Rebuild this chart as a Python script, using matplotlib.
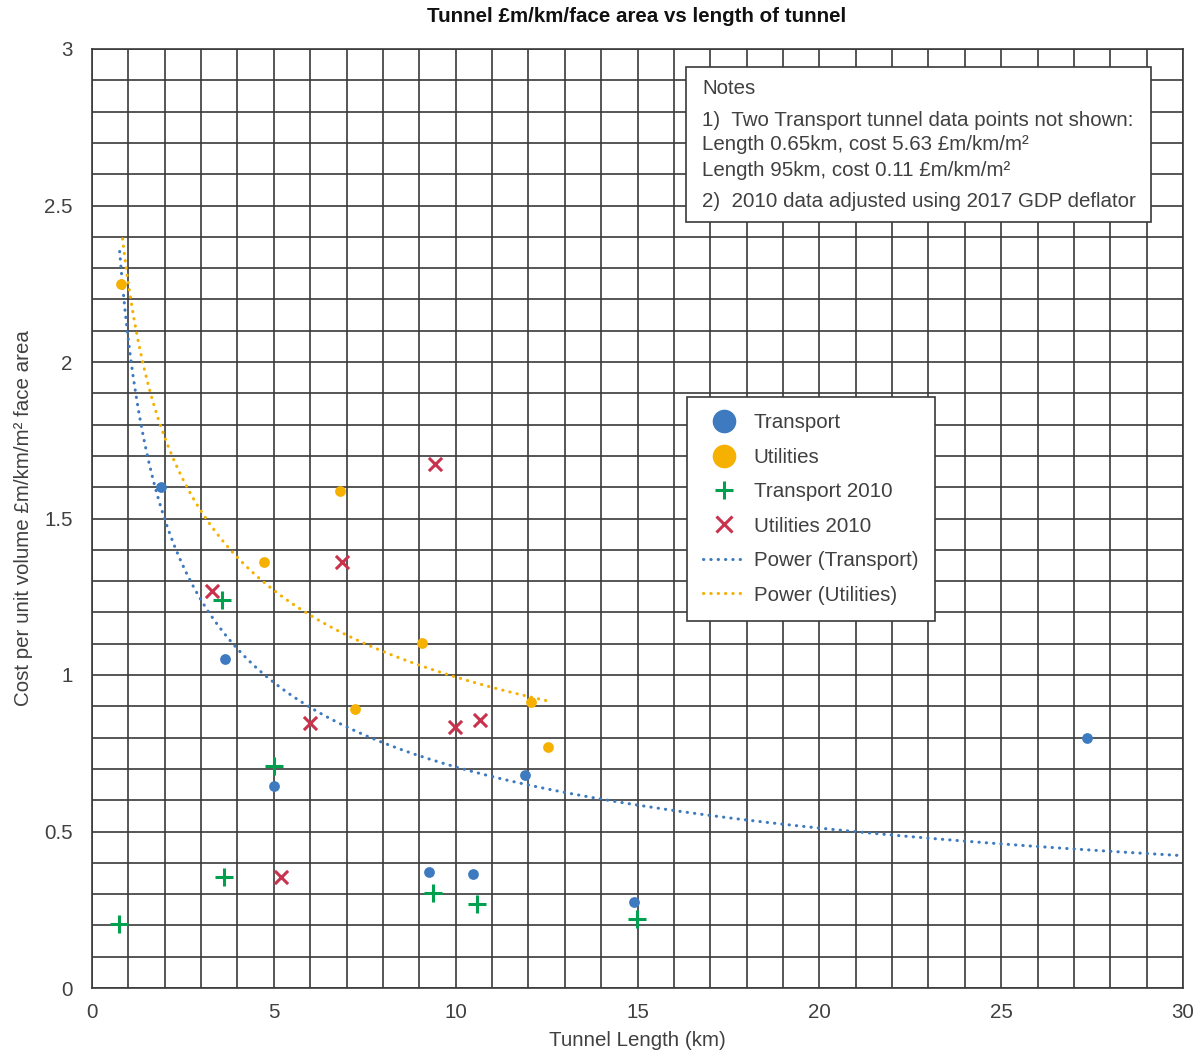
import numpy as np
import matplotlib
matplotlib.use("Agg")
from matplotlib import pyplot as plt
from matplotlib.lines import Line2D
from matplotlib.patches import Rectangle

# data
transport_x = [1.9, 3.65, 5.0, 9.27, 10.48, 11.9, 14.9, 27.36]
transport_y = [1.60, 1.05, 0.645, 0.371, 0.364, 0.68, 0.275, 0.799]

utilities_x = [0.79, 4.73, 6.82, 9.07, 7.23, 12.07, 12.54]
utilities_y = [2.25, 1.36, 1.588, 1.102, 0.891, 0.914, 0.77]

transport2010_x = [0.74, 3.57, 3.63, 5.0, 9.38, 10.6, 14.98]
transport2010_y = [0.204, 1.24, 0.355, 0.709, 0.304, 0.268, 0.22]

utilities2010_x = [3.30, 6.0, 6.87, 9.43, 5.2, 9.98, 10.67]
utilities2010_y = [1.268, 0.847, 1.361, 1.674, 0.355, 0.834, 0.856]

# power trendlines y = a * x^b (coefficients and x range)
trend_transport = (2.07, -0.467, 0.76, 30.0)
trend_utilities = (2.25, -0.355, 0.84, 12.6)

BLUE = "#3d7abf"
ORANGE = "#f5b000"
GREEN = "#00a04f"
RED = "#c8334d"
TXT = "#404040"
GRID = "#3a3a3a"
FS = 14.8

plt.rcParams["font.family"] = ["Liberation Sans", "DejaVu Sans"]

W, H = 1204, 1050


def fx(px):
    return px / W


def fy(py):
    return 1 - py / H


def main():
    fig = plt.figure(figsize=(W / 100, H / 100), dpi=100)
    ax = fig.add_axes([fx(92), fy(988), fx(1183) - fx(92), fy(49) - fy(988)])

    ax.set_xlim(0, 30)
    ax.set_ylim(0, 3)
    ax.set_xticks(np.arange(0, 31, 5))
    ax.set_xticks(np.arange(0, 31, 1), minor=True)
    ax.set_yticks(np.arange(0, 3.01, 0.5))
    ax.set_yticks(np.arange(0, 3.01, 0.1), minor=True)
    ax.set_xticklabels(["0", "5", "10", "15", "20", "25", "30"])
    ax.set_yticklabels(["0", "0.5", "1", "1.5", "2", "2.5", "3"])
    ax.grid(which="both", color=GRID, lw=1.2)
    ax.set_axisbelow(True)
    ax.tick_params(which="both", length=0, labelsize=FS, labelcolor=TXT)
    ax.tick_params(axis="x", pad=11)
    ax.tick_params(axis="y", pad=14)
    for s in ax.spines.values():
        s.set_color(GRID)
        s.set_linewidth(1.2)

    # trendlines
    for (a, b, x0, x1), col in [(trend_transport, BLUE), (trend_utilities, ORANGE)]:
        xs = np.linspace(x0, x1, 400)
        ax.plot(xs, a * xs ** b, color=col, lw=2.2, linestyle=(0, (0.1, 2.3)),
                dash_capstyle="round", zorder=3)

    ax.scatter(transport_x, transport_y, s=60, color=BLUE, zorder=4, linewidths=0)
    ax.scatter(utilities_x, utilities_y, s=60, color=ORANGE, zorder=4, linewidths=0)
    ax.scatter(transport2010_x, transport2010_y, s=150, marker="+", color=GREEN,
               linewidths=2.2, zorder=4)
    ax.scatter(utilities2010_x, utilities2010_y, s=90, marker="x", color=RED,
               linewidths=2.2, zorder=4)

    ax.set_xlabel("Tunnel Length (km)", fontsize=FS, color=TXT, labelpad=6)
    ax.set_ylabel("Cost per unit volume £m/km/m² face area", fontsize=FS,
                  color=TXT, labelpad=8)
    fig.text(fx(637), fy(17), "Tunnel £m/km/face area vs length of tunnel",
             ha="center", va="center", fontsize=14.8, fontweight="bold", color="#111111")

    # legend
    dots = (0, (0.1, 2.3))
    handles = [
        Line2D([], [], marker="o", ls="none", ms=17, color=BLUE, mew=0),
        Line2D([], [], marker="o", ls="none", ms=17, color=ORANGE, mew=0),
        Line2D([], [], marker="+", ls="none", ms=13, color=GREEN, mew=2.2),
        Line2D([], [], marker="x", ls="none", ms=12, color=RED, mew=2.2),
        Line2D([], [], color=BLUE, lw=2.2, ls=dots, dash_capstyle="round"),
        Line2D([], [], color=ORANGE, lw=2.2, ls=dots, dash_capstyle="round"),
    ]
    labels = ["Transport", "Utilities", "Transport 2010", "Utilities 2010",
              "Power (Transport)", "Power (Utilities)"]
    leg = ax.legend(handles, labels, loc="upper left",
                    bbox_to_anchor=(fx(687), fy(397)), bbox_transform=fig.transFigure,
                    fontsize=FS, frameon=True, fancybox=False, framealpha=1,
                    edgecolor=GRID, borderpad=0.8, labelspacing=0.75,
                    handlelength=2.0, handletextpad=0.44, borderaxespad=0)
    leg.get_frame().set_linewidth(1.2)
    for t in leg.get_texts():
        t.set_color(TXT)

    # notes box
    fig.patches.append(Rectangle((fx(686), fy(222)), fx(1151) - fx(686), fy(67) - fy(222),
                                 transform=fig.transFigure, facecolor="white",
                                 edgecolor=GRID, lw=1.2, zorder=5))
    notes = [
        (89, "Notes"),
        (120, "1)  Two Transport tunnel data points not shown:"),
        (145, "Length 0.65km, cost 5.63 £m/km/m²"),
        (170, "Length 95km, cost 0.11 £m/km/m²"),
        (202, "2)  2010 data adjusted using 2017 GDP deflator"),
    ]
    for py, s in notes:
        fig.text(fx(702), fy(py), s, ha="left", va="center", fontsize=FS,
                 color=TXT, zorder=6)

    fig.savefig("out.png", dpi=100)


if __name__ == "__main__":
    main()
